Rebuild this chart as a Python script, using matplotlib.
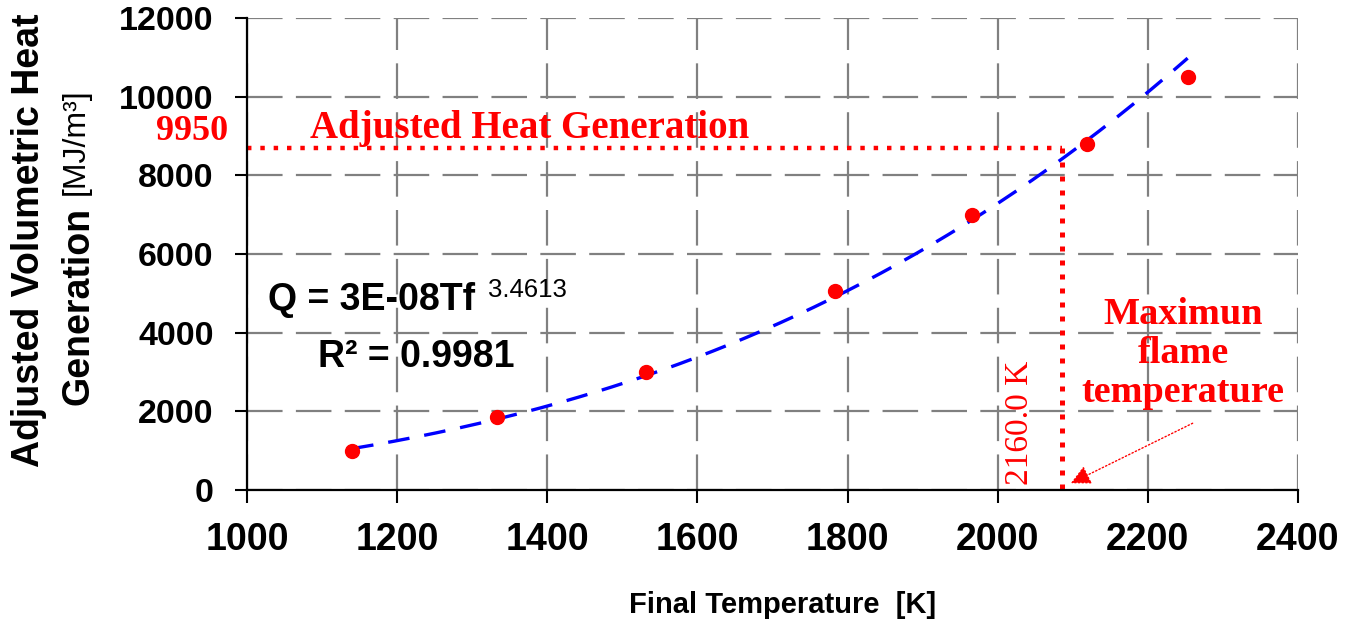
import numpy as np
import matplotlib
matplotlib.use("Agg")
from matplotlib import pyplot as plt
import matplotlib.transforms as mtransforms

# data
temp_k = [1140, 1333, 1531, 1783, 1966, 2119, 2253]
heat_mj = [1000, 1850, 3000, 5050, 7000, 8800, 10500]

adj_heat = 8700      # adjusted heat generation level
max_temp = 2085      # where the dotted drop line hits the axis

x_ticks = [1000, 1200, 1400, 1600, 1800, 2000, 2200, 2400]
y_ticks = [0, 2000, 4000, 6000, 8000, 10000, 12000]

sans = ['Liberation Sans', 'DejaVu Sans']
serif = ['Liberation Serif', 'DejaVu Serif']

plt.rcParams['font.family'] = sans

fig = plt.figure(figsize=(13.48, 6.28), dpi=100)
ax = fig.add_axes([0.1832, 0.2197, 0.7797, 0.7516])

# power trendline fitted in log space
T = np.array(temp_k, dtype=float)
Q = np.array(heat_mj, dtype=float)
b, a = np.polyfit(np.log(T), np.log(Q), 1)
t_fit = np.linspace(T.min(), T.max(), 200)
ax.plot(t_fit, np.exp(a) * t_fit ** b, color='#0000ff', lw=2.4,
        dashes=(6.5, 4.5), zorder=3)

ax.plot(temp_k, heat_mj, 'o', color='#ff0000', ms=10, mec='#ff0000', zorder=4)

# dotted guide lines
ax.plot([1000, max_temp], [adj_heat, adj_heat], color='#ff0000', lw=3.2,
        linestyle=(0, (1, 2)), zorder=5, clip_on=False)
ax.plot([max_temp, max_temp], [adj_heat, 0], color='#ff0000', lw=3.6,
        linestyle=(0, (1, 1.8)), zorder=5, clip_on=False)

ax.set_xlim(1000, 2400)
ax.set_ylim(0, 12000)
ax.set_xticks(x_ticks)
ax.set_yticks(y_ticks)
ax.set_xticklabels([str(v) for v in x_ticks], fontweight='bold', fontsize=27)
ax.set_yticklabels([str(v) for v in y_ticks], fontweight='bold', fontsize=24.5)
ax.tick_params(axis='both', direction='out', length=9, width=1.5, color='black')
ax.tick_params(axis='x', pad=14)
ax.tick_params(axis='y', pad=15)

ax.grid(True, color='#808080', lw=1.6, dashes=(16, 6), zorder=0)
ax.set_axisbelow(True)
for s in ['top', 'right']:
    ax.spines[s].set_visible(False)
for s in ['left', 'bottom']:
    ax.spines[s].set_linewidth(1.6)
    ax.spines[s].set_zorder(6)

# axis titles
fig.text(783 / 1348, 1 - 605 / 628, 'Final Temperature  [K]',
         fontweight='bold', fontsize=21, ha='center', va='center')
fig.text(29 / 1348, 1 - 240 / 628, 'Adjusted Volumetric Heat',
         fontweight='bold', fontsize=27, rotation=90, ha='center', va='center')
fig.text(78 / 1348, 1 - 306 / 628, 'Generation',
         fontweight='bold', fontsize=27, rotation=90, ha='center', va='center')
fig.text(76 / 1348, 1 - 142 / 628, '[MJ/m\u00b3]',
         fontsize=23, rotation=90, ha='center', va='center')

# red annotations
trans = mtransforms.blended_transform_factory(ax.transAxes, ax.transData)
ax.text(-0.018, 9110, '9950', transform=trans, family=serif, fontweight='bold',
        fontsize=26, color='#ff0000', ha='right', va='center', clip_on=False)
ax.text(1376, 9200, 'Adjusted Heat Generation', family=serif, fontweight='bold',
        fontsize=28, color='#ff0000', ha='center', va='center')
ax.text(2030, 1703, '2160.0 K', family=serif, fontsize=24, color='#ff0000',
        rotation=90, ha='center', va='center')
ax.text(2247, 3480, 'Maximun\nflame\ntemperature', family=serif,
        fontweight='bold', fontsize=27.5, color='#ff0000', ha='center',
        va='center', linespacing=1.15)
ax.annotate('', xy=(2094, 140), xytext=(2263, 1729),
            arrowprops=dict(arrowstyle='-|>', color='#ff0000', lw=1,
                            linestyle=':', mutation_scale=30))

# fit equation
ax.text(1028, 4830, 'Q = 3E-08Tf', fontweight='bold',
        fontsize=27, ha='left', va='center')
ax.text(1321, 5084, '3.4613', fontsize=18.5, ha='left', va='center')
ax.text(1095, 3381, 'R\u00b2 = 0.9981', fontweight='bold',
        fontsize=27, ha='left', va='center')

fig.savefig('out.png', dpi=100)
